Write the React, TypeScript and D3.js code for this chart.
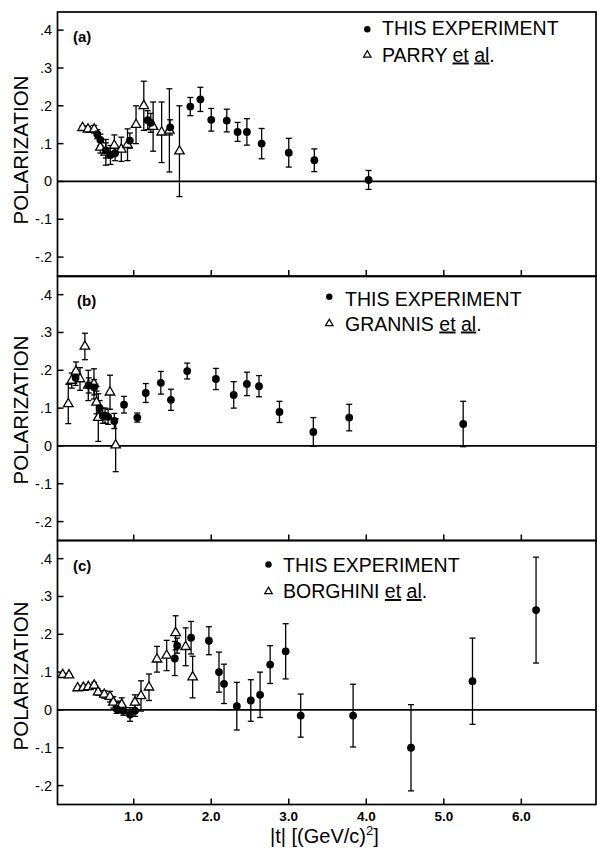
import React from 'react';
import * as d3 from 'd3';

type Pt = [number, number, number]; // [|t|, polarization, error]

// ---------- data ----------
const tickValuesY = [-0.2, -0.1, 0, 0.1, 0.2, 0.3, 0.4];
const tickLabelsY = ['-.2', '-.1', '0', '.1', '.2', '.3', '.4'];
const tickValuesX = [1, 2, 3, 4, 5, 6];
const tickLabelsX = ['1.0', '2.0', '3.0', '4.0', '5.0', '6.0'];

const panelLabels = ['(a)', '(b)', '(c)'];
const thisName = 'THIS EXPERIMENT';
const otherNames = ['PARRY', 'GRANNIS', 'BORGHINI'];

const thisA: Pt[] = [
  [0.53, 0.125, 0.012], [0.57, 0.11, 0.015], [0.64, 0.082, 0.02], [0.70, 0.07, 0.025],
  [0.76, 0.075, 0.02], [0.95, 0.108, 0.02], [1.18, 0.162, 0.025], [1.22, 0.155, 0.025],
  [1.47, 0.143, 0.02], [1.73, 0.198, 0.024], [1.86, 0.217, 0.032], [2.0, 0.163, 0.03],
  [2.2, 0.161, 0.03], [2.34, 0.131, 0.025], [2.46, 0.131, 0.035], [2.65, 0.1, 0.04],
  [3.0, 0.076, 0.038], [3.33, 0.056, 0.03], [4.03, 0.004, 0.025],
];
const parry: Pt[] = [
  [0.34, 0.142, 0.005], [0.41, 0.138, 0.008], [0.49, 0.138, 0.01], [0.57, 0.09, 0.015],
  [0.64, 0.077, 0.034], [0.75, 0.095, 0.028], [0.84, 0.085, 0.032], [0.92, 0.097, 0.042],
  [1.03, 0.15, 0.05], [1.13, 0.2, 0.065], [1.25, 0.145, 0.065], [1.36, 0.13, 0.08],
  [1.46, 0.135, 0.11], [1.59, 0.08, 0.12],
];

const thisB: Pt[] = [
  [0.25, 0.18, 0.02], [0.42, 0.16, 0.02], [0.49, 0.155, 0.02], [0.56, 0.1, 0.02],
  [0.6, 0.08, 0.02], [0.63, 0.08, 0.02], [0.67, 0.077, 0.02], [0.75, 0.066, 0.02],
  [0.875, 0.109, 0.022], [1.046, 0.075, 0.012], [1.155, 0.14, 0.025], [1.35, 0.167, 0.03],
  [1.48, 0.122, 0.028], [1.69, 0.198, 0.021], [2.06, 0.177, 0.028], [2.29, 0.135, 0.035],
  [2.46, 0.164, 0.031], [2.616, 0.158, 0.028], [2.88, 0.09, 0.028], [3.317, 0.037, 0.038],
  [3.78, 0.075, 0.035], [5.25, 0.058, 0.06],
];
const grannis: Pt[] = [
  [0.156, 0.111, 0.052], [0.2, 0.173, 0.02], [0.255, 0.197, 0.025], [0.307, 0.177, 0.03],
  [0.37, 0.263, 0.035], [0.414, 0.16, 0.04], [0.487, 0.164, 0.04], [0.52, 0.115, 0.03],
  [0.543, 0.075, 0.063], [0.694, 0.142, 0.045], [0.767, 0.002, 0.07],
];

const thisC: Pt[] = [
  [0.78, 0.003, 0.012], [0.866, -0.002, 0.012], [0.952, -0.012, 0.018], [1.016, -0.002, 0.015],
  [1.53, 0.136, 0.045], [1.56, 0.17, 0.02], [1.74, 0.191, 0.043], [1.97, 0.183, 0.037],
  [2.1, 0.1, 0.053], [2.165, 0.069, 0.052], [2.33, 0.01, 0.063], [2.51, 0.025, 0.055],
  [2.63, 0.04, 0.06], [2.76, 0.12, 0.05], [2.96, 0.155, 0.073], [3.154, -0.015, 0.057],
  [3.83, -0.015, 0.083], [4.577, -0.1, 0.114], [5.37, 0.076, 0.114], [6.19, 0.264, 0.14],
];
const borghini: Pt[] = [
  [0.084, 0.093, 0.004], [0.165, 0.092, 0.004], [0.277, 0.058, 0.004], [0.35, 0.059, 0.005],
  [0.414, 0.061, 0.006], [0.49, 0.065, 0.008], [0.54, 0.047, 0.008], [0.62, 0.041, 0.01],
  [0.694, 0.035, 0.014], [0.737, 0.02, 0.015], [0.80, 0.008, 0.015], [0.845, 0.014, 0.018],
  [1.016, 0.02, 0.02], [1.094, 0.037, 0.04], [1.197, 0.06, 0.035], [1.3, 0.134, 0.034],
  [1.425, 0.144, 0.04], [1.54, 0.204, 0.045], [1.67, 0.167, 0.05], [1.76, 0.087, 0.055],
];

const thisSeries = [thisA, thisB, thisC];
const otherSeries = [parry, grannis, borghini];

// ---------- layout ----------
const W = 597;
const H = 850;
const LEFT = 57.5;
const RIGHT = 596;
const PH = 264;
const panelTops = [12, 276.5, 540.5];
const FONT = '"Liberation Sans", Arial, Helvetica, sans-serif';

const legendMarkX = [367.3, 329.3, 268.5];
const legendTextX = [382, 345, 283];
const legendBase1 = [35, 306, 571.5];
const legendBase2 = [61.5, 330.5, 598];
const legendMarkY1 = [29.3, 296.7, 564.5];
const legendMarkY2 = [55, 323.5, 591.5];
const labelX = [73, 77, 73];
const labelBase = [42, 306, 571];
const yTitleCenter = [150, 410, 676];

const x = d3.scaleLinear().domain([0, 7]).range([56.2, 56.2 + 7 * 77.52]);

const triPath = (s: number) => {
  const h = (s * Math.sqrt(3)) / 2;
  return `M0,${(-2 * h) / 3}L${s / 2},${h / 3}L${-s / 2},${h / 3}Z`;
};

function ErrBars({ data, y }: { data: Pt[]; y: d3.ScaleLinear<number, number> }) {
  return (
    <g stroke="#000" strokeWidth={1.3} fill="none">
      {data.map((d, i) => {
        const cx = x(d[0]);
        const y1 = y(d[1] + d[2]);
        const y2 = y(d[1] - d[2]);
        if (Math.abs(y2 - y1) < 1) return null;
        return (
          <g key={i}>
            <line x1={cx} x2={cx} y1={y1} y2={y2} />
            <line x1={cx - 3} x2={cx + 3} y1={y1} y2={y1} />
            <line x1={cx - 3} x2={cx + 3} y1={y2} y2={y2} />
          </g>
        );
      })}
    </g>
  );
}

function Panel({ idx }: { idx: number }) {
  const top = panelTops[idx];
  const bottom = top + PH;
  const y = d3.scaleLinear().domain([-0.25, 0.448]).range([bottom, top]);
  const thisData = thisSeries[idx];
  const otherData = otherSeries[idx];
  return (
    <g>
      <rect x={LEFT} y={top} width={RIGHT - LEFT} height={PH} fill="none" stroke="#000" strokeWidth={1.7} />
      <line x1={LEFT} x2={RIGHT} y1={y(0)} y2={y(0)} stroke="#000" strokeWidth={1.8} />
      {tickValuesY.map((v, i) => (
        <g key={i}>
          <line x1={LEFT} x2={LEFT + 6} y1={y(v)} y2={y(v)} stroke="#000" strokeWidth={1.5} />
          <text x={52} y={y(v) + 5} textAnchor="end" fontSize={14.5} fontFamily={FONT}>
            {tickLabelsY[i]}
          </text>
        </g>
      ))}
      {tickValuesX.map((v, i) => (
        <line key={i} x1={x(v)} x2={x(v)} y1={bottom} y2={bottom - 6} stroke="#000" strokeWidth={1.5} />
      ))}
      <text
        transform={`translate(20,${yTitleCenter[idx]}) rotate(-90)`}
        textAnchor="middle"
        dominantBaseline="central"
        fontSize={20.5}
        fontFamily={FONT}
      >
        POLARIZATION
      </text>
      <text x={labelX[idx]} y={labelBase[idx]} fontSize={15} fontWeight="bold" fontFamily={FONT}>
        {panelLabels[idx]}
      </text>
      <ErrBars data={otherData} y={y} />
      <ErrBars data={thisData} y={y} />
      {otherData.map((d, i) => (
        <path key={i} d={triPath(9.5)} transform={`translate(${x(d[0])},${y(d[1])})`} fill="#fff" stroke="#000" strokeWidth={1.3} />
      ))}
      {thisData.map((d, i) => (
        <circle key={i} cx={x(d[0])} cy={y(d[1])} r={3.9} fill="#000" />
      ))}
      <circle cx={legendMarkX[idx]} cy={legendMarkY1[idx]} r={3.2} fill="#000" />
      <text x={legendTextX[idx]} y={legendBase1[idx]} fontSize={19.5} fontFamily={FONT}>
        {thisName}
      </text>
      <path d={triPath(7.5)} transform={`translate(${legendMarkX[idx]},${legendMarkY2[idx]})`} fill="#fff" stroke="#000" strokeWidth={1.2} />
      <text x={legendTextX[idx]} y={legendBase2[idx]} fontSize={19.5} fontFamily={FONT}>
        {otherNames[idx]}{'  '}
        <tspan textDecoration="underline" style={{ textDecoration: 'underline' }}>et</tspan>
        {'  '}
        <tspan textDecoration="underline" style={{ textDecoration: 'underline' }}>al</tspan>.
      </text>
    </g>
  );
}

export default function App() {
  const bottomC = panelTops[2] + PH;
  return (
    <svg
      width={W}
      height={H}
      viewBox={`0 0 ${W} ${H}`}
      style={{ position: 'absolute', left: 0, top: 0, background: '#fff' }}
    >
      <rect x={0} y={0} width={W} height={H} fill="#fff" />
      {[0, 1, 2].map((i) => (
        <Panel key={i} idx={i} />
      ))}
      {tickValuesX.map((v, i) => (
        <text key={i} x={x(v)} y={bottomC + 16} textAnchor="middle" fontSize={13.5} fontWeight="bold" fontFamily={FONT}>
          {tickLabelsX[i]}
        </text>
      ))}
      <text x={270} y={843} fontSize={20} fontFamily={FONT}>
        |t| [(GeV/c)<tspan dy={-8} fontSize={13}>2</tspan>
        <tspan dy={8}>]</tspan>
      </text>
    </svg>
  );
}
